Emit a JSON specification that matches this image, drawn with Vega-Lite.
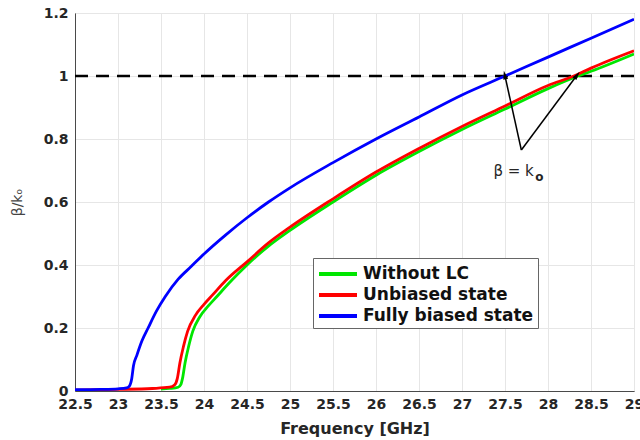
{
  "$schema": "https://vega.github.io/schema/vega-lite/v6.json",
  "autosize": {"type": "none"},
  "padding": {"left": 75, "top": 13, "right": 6, "bottom": 49},
  "width": 559,
  "height": 378,
  "background": "white",
  "config": {
    "view": {"stroke": "#6a6a6a", "strokeWidth": 1},
    "font": "DejaVu Sans",
    "axis": {
      "grid": true,
      "gridColor": "#e6e6e6",
      "gridWidth": 1,
      "domainColor": "#4a4a4a",
      "domainWidth": 1,
      "tickSize": 0,
      "labelFont": "DejaVu Sans",
      "labelFontWeight": "bold",
      "labelFontSize": 14,
      "labelColor": "#262626",
      "titleFont": "DejaVu Sans",
      "titleFontWeight": "bold",
      "titleFontSize": 16,
      "titleColor": "#262626"
    }
  },
  "datasets": {
    "curves": [
      {"f": 23.5, "v": 0.006, "s": "Without LC"},
      {"f": 23.6, "v": 0.008, "s": "Without LC"},
      {"f": 23.7, "v": 0.012, "s": "Without LC"},
      {"f": 23.73, "v": 0.02, "s": "Without LC"},
      {"f": 23.75, "v": 0.04, "s": "Without LC"},
      {"f": 23.78, "v": 0.09, "s": "Without LC"},
      {"f": 23.82, "v": 0.14, "s": "Without LC"},
      {"f": 23.87, "v": 0.19, "s": "Without LC"},
      {"f": 23.95, "v": 0.235, "s": "Without LC"},
      {"f": 24.05, "v": 0.27, "s": "Without LC"},
      {"f": 24.15, "v": 0.3, "s": "Without LC"},
      {"f": 24.3, "v": 0.345, "s": "Without LC"},
      {"f": 24.5, "v": 0.4, "s": "Without LC"},
      {"f": 24.75, "v": 0.46, "s": "Without LC"},
      {"f": 25.0, "v": 0.51, "s": "Without LC"},
      {"f": 25.5, "v": 0.6, "s": "Without LC"},
      {"f": 26.0, "v": 0.685, "s": "Without LC"},
      {"f": 26.5, "v": 0.76, "s": "Without LC"},
      {"f": 27.0, "v": 0.83, "s": "Without LC"},
      {"f": 27.5, "v": 0.895, "s": "Without LC"},
      {"f": 28.0, "v": 0.96, "s": "Without LC"},
      {"f": 28.35, "v": 1.0, "s": "Without LC"},
      {"f": 28.5, "v": 1.015, "s": "Without LC"},
      {"f": 29.0, "v": 1.07, "s": "Without LC"},
      {"f": 22.5, "v": 0.003, "s": "Unbiased state"},
      {"f": 23.0, "v": 0.005, "s": "Unbiased state"},
      {"f": 23.4, "v": 0.008, "s": "Unbiased state"},
      {"f": 23.6, "v": 0.012, "s": "Unbiased state"},
      {"f": 23.66, "v": 0.02, "s": "Unbiased state"},
      {"f": 23.69, "v": 0.04, "s": "Unbiased state"},
      {"f": 23.72, "v": 0.09, "s": "Unbiased state"},
      {"f": 23.76, "v": 0.14, "s": "Unbiased state"},
      {"f": 23.81, "v": 0.19, "s": "Unbiased state"},
      {"f": 23.9, "v": 0.24, "s": "Unbiased state"},
      {"f": 24.0, "v": 0.275, "s": "Unbiased state"},
      {"f": 24.1, "v": 0.305, "s": "Unbiased state"},
      {"f": 24.25, "v": 0.35, "s": "Unbiased state"},
      {"f": 24.5, "v": 0.41, "s": "Unbiased state"},
      {"f": 24.75, "v": 0.47, "s": "Unbiased state"},
      {"f": 25.0, "v": 0.52, "s": "Unbiased state"},
      {"f": 25.5, "v": 0.61, "s": "Unbiased state"},
      {"f": 26.0, "v": 0.695, "s": "Unbiased state"},
      {"f": 26.5, "v": 0.77, "s": "Unbiased state"},
      {"f": 27.0, "v": 0.84, "s": "Unbiased state"},
      {"f": 27.5, "v": 0.905, "s": "Unbiased state"},
      {"f": 28.0, "v": 0.97, "s": "Unbiased state"},
      {"f": 28.3, "v": 1.0, "s": "Unbiased state"},
      {"f": 28.5, "v": 1.025, "s": "Unbiased state"},
      {"f": 29.0, "v": 1.08, "s": "Unbiased state"},
      {"f": 22.5, "v": 0.004, "s": "Fully biased state"},
      {"f": 22.8, "v": 0.005, "s": "Fully biased state"},
      {"f": 23.0, "v": 0.007, "s": "Fully biased state"},
      {"f": 23.1, "v": 0.01, "s": "Fully biased state"},
      {"f": 23.13, "v": 0.015, "s": "Fully biased state"},
      {"f": 23.16, "v": 0.04, "s": "Fully biased state"},
      {"f": 23.18, "v": 0.08, "s": "Fully biased state"},
      {"f": 23.22, "v": 0.114, "s": "Fully biased state"},
      {"f": 23.28, "v": 0.16, "s": "Fully biased state"},
      {"f": 23.35, "v": 0.2, "s": "Fully biased state"},
      {"f": 23.45, "v": 0.255, "s": "Fully biased state"},
      {"f": 23.55, "v": 0.3, "s": "Fully biased state"},
      {"f": 23.7, "v": 0.355, "s": "Fully biased state"},
      {"f": 23.85, "v": 0.395, "s": "Fully biased state"},
      {"f": 24.0, "v": 0.435, "s": "Fully biased state"},
      {"f": 24.25, "v": 0.495, "s": "Fully biased state"},
      {"f": 24.5, "v": 0.55, "s": "Fully biased state"},
      {"f": 24.75, "v": 0.6, "s": "Fully biased state"},
      {"f": 25.0, "v": 0.645, "s": "Fully biased state"},
      {"f": 25.5, "v": 0.725, "s": "Fully biased state"},
      {"f": 26.0, "v": 0.8, "s": "Fully biased state"},
      {"f": 26.5, "v": 0.87, "s": "Fully biased state"},
      {"f": 27.0, "v": 0.94, "s": "Fully biased state"},
      {"f": 27.5, "v": 1.0, "s": "Fully biased state"},
      {"f": 28.0, "v": 1.06, "s": "Fully biased state"},
      {"f": 28.5, "v": 1.12, "s": "Fully biased state"},
      {"f": 29.0, "v": 1.18, "s": "Fully biased state"}
    ]
  },
  "layer": [
    {
      "data": {"values": [{"f": 22.5, "v": 1.0}, {"f": 29.0, "v": 1.0}]},
      "mark": {"type": "line", "color": "black", "strokeWidth": 2.5, "strokeDash": [13, 8]},
      "encoding": {
        "x": {"field": "f", "type": "quantitative"},
        "y": {"field": "v", "type": "quantitative"}
      }
    },
    {
      "data": {"name": "curves"},
      "mark": {"type": "line", "strokeWidth": 2.8, "clip": true, "interpolate": "monotone"},
      "encoding": {
        "x": {
          "field": "f", "type": "quantitative",
          "scale": {"domain": [22.5, 29], "nice": false, "zero": false},
          "axis": {
            "title": "Frequency [GHz]",
            "values": [22.5, 23, 23.5, 24, 24.5, 25, 25.5, 26, 26.5, 27, 27.5, 28, 28.5, 29],
            "format": "~g",
            "labelPadding": 6,
            "titlePadding": 9,
            "labelFlush": false
          }
        },
        "y": {
          "field": "v", "type": "quantitative",
          "scale": {"domain": [0, 1.2], "nice": false},
          "axis": {
            "title": "β/kₒ",
            "titleFontWeight": "normal",
            "titleFontSize": 14,
            "titleColor": "#444444",
            "values": [0, 0.2, 0.4, 0.6, 0.8, 1, 1.2],
            "format": "~g",
            "labelPadding": 7,
            "titlePadding": 19,
            "labelFlush": false
          }
        },
        "color": {
          "field": "s", "type": "nominal",
          "scale": {
            "domain": ["Without LC", "Unbiased state", "Fully biased state"],
            "range": ["#00e600", "#ff0000", "#0000ff"]
          },
          "legend": {
            "title": null,
            "orient": "none",
            "legendX": 238,
            "legendY": 245,
            "symbolType": "M-1,0H2.8",
            "symbolSize": 400,
            "symbolStrokeWidth": 4,
            "labelFont": "DejaVu Sans",
            "labelFontWeight": "bold",
            "labelFontSize": 17,
            "labelLimit": 400,
            "labelColor": "#111111",
            "labelOffset": 22,
            "rowPadding": 1,
            "padding": 4,
            "fillColor": "white",
            "strokeColor": "#666666"
          }
        },
        "order": {"field": "s"}
      }
    },
    {
      "data": {"values": [
        {"f": 27.69, "v": 0.765, "f2": 27.5, "v2": 1.0},
        {"f": 27.69, "v": 0.765, "f2": 28.33, "v2": 1.0}
      ]},
      "mark": {"type": "rule", "color": "black", "strokeWidth": 1.5},
      "encoding": {
        "x": {"field": "f", "type": "quantitative"},
        "y": {"field": "v", "type": "quantitative"},
        "x2": {"field": "f2"},
        "y2": {"field": "v2"}
      }
    },
    {
      "data": {"values": [{"f": 27.5, "v": 1.0}]},
      "mark": {"type": "point", "shape": "M0,-1L0.45,0.6L-0.45,0.6Z", "filled": true, "color": "black", "size": 120, "angle": 348, "opacity": 1},
      "encoding": {
        "x": {"field": "f", "type": "quantitative"},
        "y": {"field": "v", "type": "quantitative"}
      }
    },
    {
      "data": {"values": [{"f": 28.33, "v": 1.0}]},
      "mark": {"type": "point", "shape": "M0,-1L0.45,0.6L-0.45,0.6Z", "filled": true, "color": "black", "size": 120, "angle": 37, "opacity": 1},
      "encoding": {
        "x": {"field": "f", "type": "quantitative"},
        "y": {"field": "v", "type": "quantitative"}
      }
    },
    {
      "data": {"values": [{"f": 27.6, "v": 0.698, "t": "β = k"}]},
      "mark": {"type": "text", "font": "DejaVu Sans", "fontSize": 15, "color": "#262626", "align": "center", "baseline": "middle"},
      "encoding": {
        "x": {"field": "f", "type": "quantitative"},
        "y": {"field": "v", "type": "quantitative"},
        "text": {"field": "t"}
      }
    },
    {
      "data": {"values": [{"f": 27.9, "v": 0.68, "t": "o"}]},
      "mark": {"type": "text", "font": "DejaVu Sans", "fontSize": 12, "fontWeight": "bold", "color": "#262626", "align": "center", "baseline": "middle"},
      "encoding": {
        "x": {"field": "f", "type": "quantitative"},
        "y": {"field": "v", "type": "quantitative"},
        "text": {"field": "t"}
      }
    }
  ]
}
